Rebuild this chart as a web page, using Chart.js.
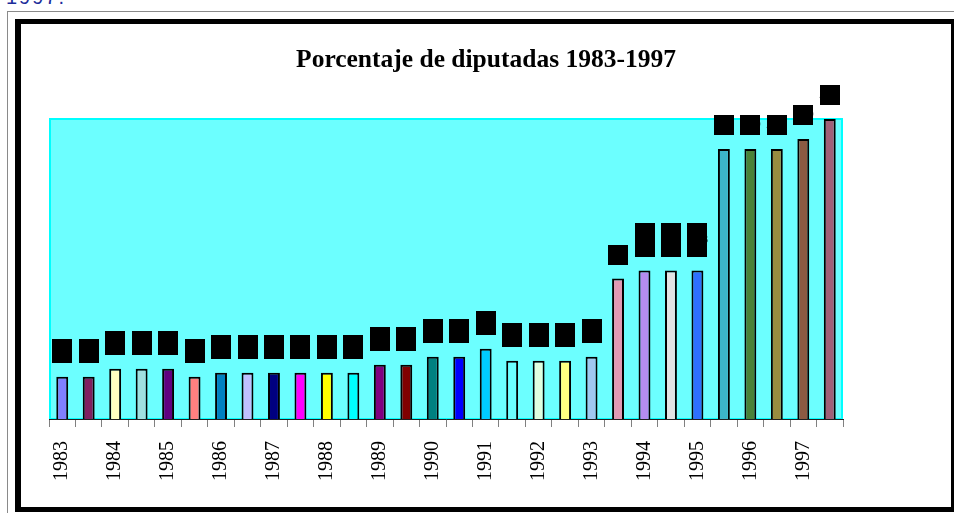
<!DOCTYPE html>
<html>
<head>
<meta charset="utf-8">
<script src="https://cdn.jsdelivr.net/npm/chart.js@4/dist/chart.umd.min.js"></script>
<style>
  html, body { margin: 0; padding: 0; background: #fff; width: 954px; height: 513px; overflow: hidden; position: relative; }
  #topText { position: absolute; left: 6px; top: -14px; font: 20px "Liberation Sans", sans-serif; color: #1c2d9a; letter-spacing: 2px; }
  #grayFrame { position: absolute; left: 7px; top: 11px; width: 960px; height: 520px; border-left: 1px solid #8a8a8a; border-top: 1px solid #8a8a8a; }
  #blackFrame { position: absolute; left: 15px; top: 19px; width: 941px; height: 493px; box-sizing: border-box; border: 5px solid #000; border-left-width: 6px; background: #fff; }
  #wrap { position: absolute; left: 21px; top: 24px; width: 930px; height: 482px; }
</style>
</head>
<body>
<div id="topText">1997.</div>
<div id="grayFrame"></div>
<div id="blackFrame"></div>
<div id="wrap"><canvas id="c" width="930" height="482"></canvas></div>
<script>
// ---- data ----
const categories = ["1983","","1984","","1985","","1986","","1987","","1988","","1989","","1990","","1991","","1992","","1993","","1994","","1995","","1996","","1997",""];
const values = [4.2,4.2,5.0,5.0,5.0,4.2,4.6,4.6,4.6,4.6,4.6,4.6,5.4,5.4,6.2,6.2,7.0,5.8,5.8,5.8,6.2,14.0,14.8,14.8,14.8,26.9,26.9,26.9,27.9,29.9];
const chartTitle = "Porcentaje de diputadas 1983-1997";

// ---- styles ----
const barColors = ['#8080FF','#802060','#FFFFC0','#A0E0E0','#600080','#FF8080','#0080C0','#C0C0FF','#000080','#FF00FF',
  '#FFFF00','#00FFFF','#800080','#800000','#008080','#0000FF','#00CCFF','#6CFFFF','#E0FFE0','#FFFF80',
  '#A0C8F0','#E09AB4','#B48CF0','#E3E3E3','#2E6FFF','#3CB4C8','#4A8238','#988C40','#8C5A42','#A06078'];
const labelBoxHeights = [24,24,24,24,24,24,24,24,24,24,24,24,24,24,24,24,24,24,24,24,24,20,34,34,34,20,20,20,20,20];

const areaBg = {
  id: 'areaBg',
  beforeDraw(chart) {
    const {ctx, chartArea: a} = chart;
    ctx.save();
    ctx.fillStyle = '#6CFFFF';
    ctx.fillRect(a.left, a.top, a.right - a.left, a.bottom - a.top);
    ctx.strokeStyle = '#00FFFF';
    ctx.lineWidth = 2;
    ctx.strokeRect(a.left + 1, a.top + 1, a.right - a.left - 2, a.bottom - a.top - 1);
    ctx.restore();
  }
};

const valueBoxes = {
  id: 'valueBoxes',
  afterDatasetsDraw(chart) {
    const {ctx} = chart;
    const meta = chart.getDatasetMeta(0);
    ctx.save();
    meta.data.forEach((bar, i) => {
      const h = labelBoxHeights[i];
      const bottom = bar.y - 14;
      ctx.fillStyle = '#000';
      ctx.fillRect(Math.round(bar.x - 10), Math.round(bottom - h), 20, h);
      ctx.font = '12px "Liberation Serif", serif';
      ctx.textAlign = 'center';
      ctx.textBaseline = 'middle';
      ctx.fillText(String(values[i]).replace('.', ','), bar.x, bottom - h / 2);
    });
    ctx.restore();
  }
};

new Chart(document.getElementById('c'), {
  type: 'bar',
  data: {
    labels: categories,
    datasets: [{
      data: values,
      backgroundColor: barColors,
      borderColor: '#000',
      borderWidth: 2,
      barPercentage: 0.45,
      categoryPercentage: 1.0
    }]
  },
  options: {
    responsive: false,
    animation: false,
    layout: { padding: 0 },
    plugins: {
      legend: { display: false },
      tooltip: { enabled: false },
      title: {
        display: true,
        text: chartTitle,
        color: '#000',
        font: { family: '"Liberation Serif", "Times New Roman", serif', size: 25.5, weight: 'bold', lineHeight: 1.2 },
        padding: { top: 21, bottom: 42.4 }
      }
    },
    scales: {
      x: {
        offset: true,
        grid: { display: true, offset: true, drawOnChartArea: false, drawTicks: true, tickLength: 8, color: '#808080', lineWidth: 1 },
        border: { display: true, color: '#202020', width: 1 },
        ticks: {
          autoSkip: false, maxRotation: 90, minRotation: 90, padding: 14,
          color: '#000',
          font: { family: '"Liberation Serif", "Times New Roman", serif', size: 20 }
        },
        afterFit(scale) { scale.height = 87; }
      },
      y: {
        position: 'left',
        min: 0,
        max: 30,
        grid: { display: false },
        border: { display: false },
        ticks: { display: false },
        afterFit(scale) { scale.width = 28; }
      },
      yRight: {
        position: 'right',
        min: 0,
        max: 30,
        grid: { display: false },
        border: { display: false },
        ticks: { display: false },
        afterFit(scale) { scale.width = 108; }
      }
    }
  },
  plugins: [areaBg, valueBoxes]
});
</script>
</body>
</html>
